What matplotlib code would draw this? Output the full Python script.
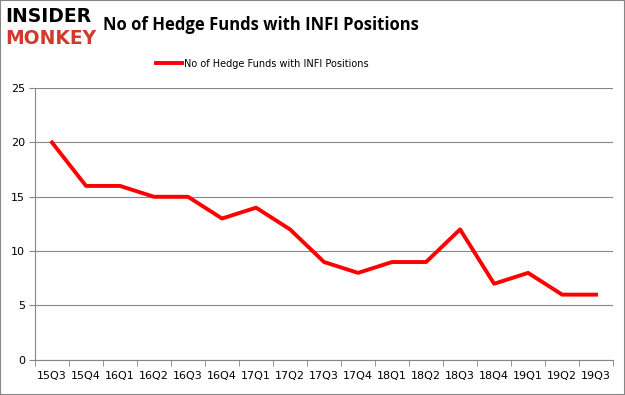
import matplotlib.pyplot as plt
from matplotlib.patches import Rectangle

quarters = ["15Q3", "15Q4", "16Q1", "16Q2", "16Q3", "16Q4", "17Q1", "17Q2", "17Q3",
            "17Q4", "18Q1", "18Q2", "18Q3", "18Q4", "19Q1", "19Q2", "19Q3"]
funds = [20, 16, 16, 15, 15, 13, 14, 12, 9, 8, 9, 9, 12, 7, 8, 6, 6]
yticks = [0, 5, 10, 15, 20, 25]
series_name = "No of Hedge Funds with INFI Positions"

fig = plt.figure(figsize=(6.25, 3.95), dpi=100)
ax = fig.add_axes([0.056, 0.089, 0.925, 0.688])

x = list(range(len(quarters)))
ax.plot(x, funds, color="#ff0000", linewidth=2.8, label=series_name)

ax.set_xlim(-0.5, len(quarters) - 0.5)
ax.set_ylim(0, 25)
ax.set_yticks(yticks)
ax.set_xticks(x)
ax.set_xticklabels(quarters)
ax.set_xticks([i - 0.5 for i in range(len(quarters) + 1)], minor=True)
ax.tick_params(axis="x", which="major", length=0, pad=8, labelsize=8)
ax.tick_params(axis="x", which="minor", length=4, color="#868686")
ax.tick_params(axis="y", length=4, color="#868686", labelsize=8, pad=3)
ax.grid(axis="y", color="#868686", linewidth=0.8)
ax.set_axisbelow(True)
for side in ["top", "right"]:
    ax.spines[side].set_visible(False)
for side in ["left", "bottom"]:
    ax.spines[side].set_color("#868686")

fig.text(0.418, 0.937, "No of Hedge Funds with INFI Positions", ha="center", va="center",
         fontsize=12, fontweight="bold", family="Open Sans")
fig.text(0.008, 0.957, "INSIDER", ha="left", va="center", fontsize=13.5,
         fontweight="bold", color="black", family="DejaVu Sans")
fig.text(0.008, 0.902, "MONKEY", ha="left", va="center", fontsize=13.5,
         fontweight="bold", color="#d0392b", family="DejaVu Sans")

ax.legend(loc="center", bbox_to_anchor=(0.393, 1.09), frameon=False, fontsize=7,
          handlelength=2.6, handletextpad=0.2)

fig.patches.append(Rectangle((0, 0), 1, 1, transform=fig.transFigure, fill=False,
                             edgecolor="#868686", linewidth=1.5))

fig.savefig("out.png", dpi=100)
